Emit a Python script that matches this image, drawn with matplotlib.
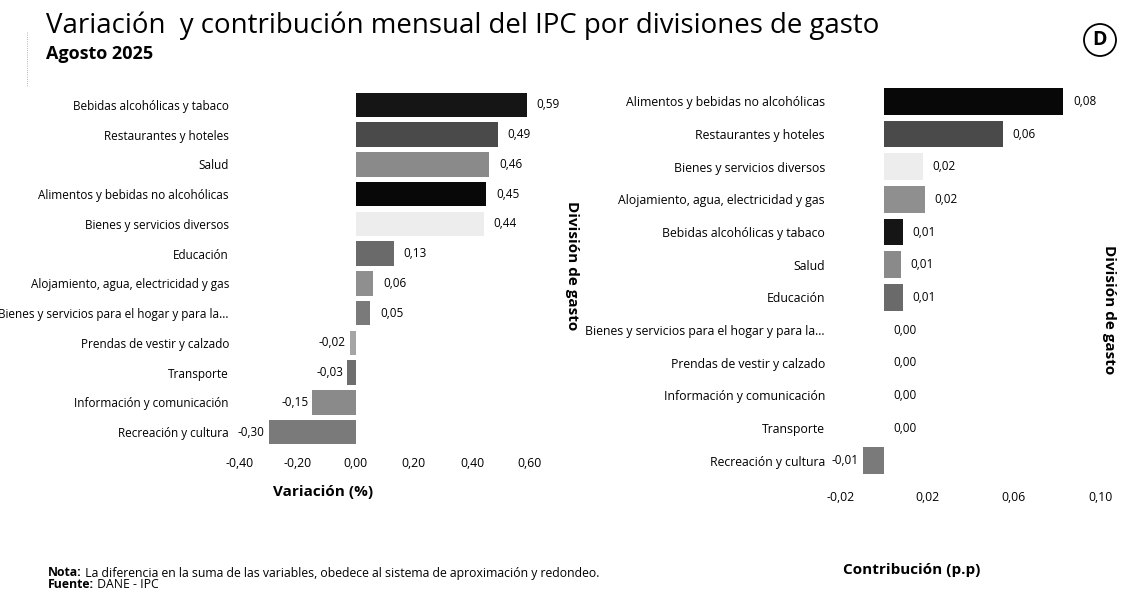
import matplotlib
matplotlib.use("Agg")
import matplotlib.pyplot as plt
from matplotlib.ticker import FuncFormatter
from matplotlib.patches import Circle
from matplotlib.lines import Line2D

plt.rcParams['font.family'] = ['Open Sans', 'DejaVu Sans']

# variación mensual (%) por división de gasto
var_cats = ["Bebidas alcohólicas y tabaco", "Restaurantes y hoteles", "Salud",
            "Alimentos y bebidas no alcohólicas", "Bienes y servicios diversos",
            "Educación", "Alojamiento, agua, electricidad y gas",
            "Bienes y servicios para el hogar y para la...",
            "Prendas de vestir y calzado", "Transporte",
            "Información y comunicación", "Recreación y cultura"]
var_vals = [0.59, 0.49, 0.46, 0.45, 0.44, 0.13, 0.06, 0.05, -0.02, -0.03, -0.15, -0.30]

# contribución (p.p)
con_cats = ["Alimentos y bebidas no alcohólicas", "Restaurantes y hoteles",
            "Bienes y servicios diversos", "Alojamiento, agua, electricidad y gas",
            "Bebidas alcohólicas y tabaco", "Salud", "Educación",
            "Bienes y servicios para el hogar y para la...",
            "Prendas de vestir y calzado", "Información y comunicación",
            "Transporte", "Recreación y cultura"]
con_vals = [0.083, 0.055, 0.018, 0.019, 0.009, 0.008, 0.009, 0.0, 0.0, 0.0, 0.0, -0.0095]

var_ticks = [-0.40, -0.20, 0.00, 0.20, 0.40, 0.60]
con_ticks = [-0.02, 0.02, 0.06, 0.10]

grays = {
    "Bebidas alcohólicas y tabaco": "#151515",
    "Restaurantes y hoteles": "#4a4a4a",
    "Salud": "#8a8a8a",
    "Alimentos y bebidas no alcohólicas": "#080808",
    "Bienes y servicios diversos": "#ededed",
    "Educación": "#6a6a6a",
    "Alojamiento, agua, electricidad y gas": "#8f8f8f",
    "Bienes y servicios para el hogar y para la...": "#7a7a7a",
    "Prendas de vestir y calzado": "#a5a5a5",
    "Transporte": "#6e6e6e",
    "Información y comunicación": "#8a8a8a",
    "Recreación y cultura": "#7a7a7a",
}

W, H = 1121, 590


def coma(v, pos=None):
    return f"{v:.2f}".replace('.', ',')


def px_axes(fig, x0, x1, y0, y1):
    return fig.add_axes([x0 / W, 1 - y1 / H, (x1 - x0) / W, (y1 - y0) / H])


def bar_panel(ax, cats, vals, ticks, xlim, xpad, ypad, catsize, ticksize):
    pos = range(len(cats))
    ax.barh(pos, vals, height=0.82, color=[grays[c] for c in cats])
    ax.set_xlim(*xlim)
    ax.set_ylim(len(cats) - 0.5, -0.5)
    ax.set_yticks(list(pos))
    ax.set_yticklabels(cats, fontsize=catsize)
    ax.set_xticks(ticks)
    ax.xaxis.set_major_formatter(FuncFormatter(coma))
    ax.tick_params(axis='x', length=0, pad=xpad, labelsize=ticksize)
    ax.tick_params(axis='y', length=0, pad=ypad)
    for s in ax.spines.values():
        s.set_visible(False)
    for i, v in enumerate(vals):
        if v >= 0:
            ax.annotate(coma(v), (v, i), xytext=(7, 0), textcoords='offset points',
                        ha='left', va='center', fontsize=8.5)
        else:
            ax.annotate(coma(v), (v, i), xytext=(-3, 0), textcoords='offset points',
                        ha='right', va='center', fontsize=8.5)


fig = plt.figure(figsize=(W / 100, H / 100), dpi=100)

# panel izquierdo: variación
ax1 = px_axes(fig, 234, 559, 90, 447)
bar_panel(ax1, var_cats, var_vals, var_ticks, (-0.42, 0.70), 7, 3.6, 8.5, 8.8)

# panel derecho: contribución
ax2 = px_axes(fig, 836, 1111, 85, 477)
bar_panel(ax2, con_cats, con_vals, con_ticks, (-0.022, 0.105), 10, 8, 8.8, 8.8)

fig.text(323 / W, 1 - 492 / H, "Variación (%)", fontsize=11, fontweight='bold',
         ha='center', va='center')
fig.text(912 / W, 1 - 570 / H, "Contribución (p.p)", fontsize=11, fontweight='bold',
         ha='center', va='center')
fig.text(572 / W, 1 - 266 / H, "División de gasto", fontsize=11, fontweight='bold',
         rotation=270, ha='center', va='center')
fig.text(1109 / W, 1 - 310 / H, "División de gasto", fontsize=11, fontweight='bold',
         rotation=270, ha='center', va='center')

# encabezado
fig.text(46 / W, 1 - 26 / H, "Variación  y contribución mensual del IPC por divisiones de gasto",
         fontsize=19.9, ha='left', va='center')
fig.text(46 / W, 1 - 54 / H, "Agosto 2025", fontsize=13, fontweight='bold',
         ha='left', va='center')

# logo
fig.add_artist(Circle((1100 / 100, (H - 40) / 100), 0.16, transform=fig.dpi_scale_trans,
                      fill=False, lw=1.3, ec='black'))
fig.text(1100 / W, 1 - 40 / H, "D", fontsize=14, fontweight='bold', ha='center', va='center')
fig.add_artist(Line2D([27 / W, 27 / W], [1 - 32 / H, 1 - 87 / H], transform=fig.transFigure,
                      ls=':', lw=0.6, color='#999999'))

# nota y fuente
r = fig.canvas.get_renderer()
for y, bold, rest in [(573, "Nota:", " La diferencia en la suma de las variables, obedece al sistema de aproximación y redondeo."),
                      (584, "Fuente:", " DANE - IPC")]:
    t = fig.text(48 / W, 1 - y / H, bold, fontsize=8.8, fontweight='bold', ha='left', va='center')
    bb = t.get_window_extent(renderer=r)
    fig.text(bb.x1 / W, 1 - y / H, rest, fontsize=8.8, ha='left', va='center')

fig.savefig("out.png", dpi=100)
